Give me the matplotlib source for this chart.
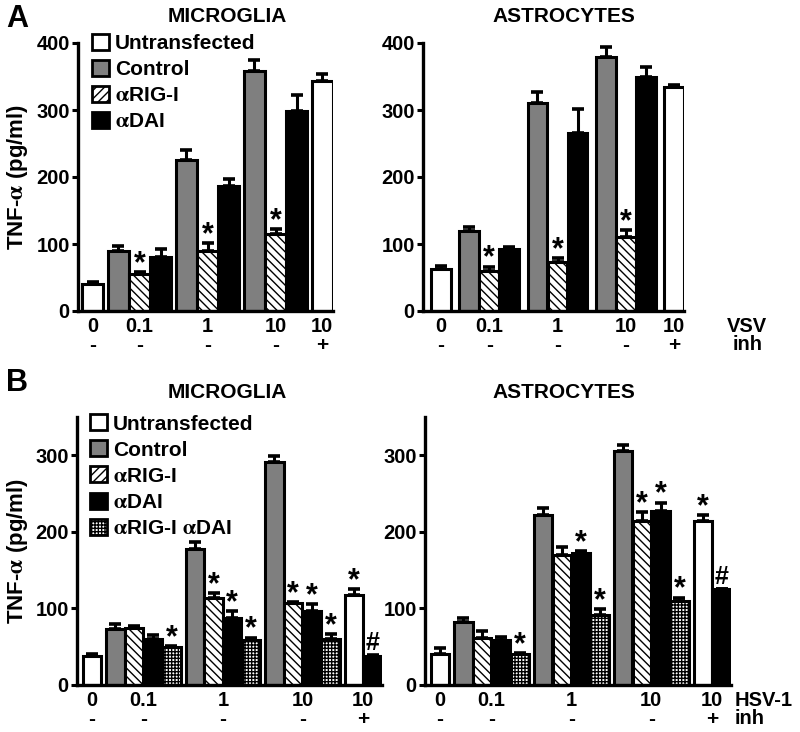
import matplotlib

matplotlib.use("Agg")
import matplotlib.pyplot as plt  # noqa: E402
from matplotlib.patches import Patch  # noqa: E402

plt.rcParams["font.family"] = ["Liberation Sans", "DejaVu Sans"]
plt.rcParams["font.weight"] = "bold"
plt.rcParams["mathtext.fontset"] = "stix"
plt.rcParams["hatch.linewidth"] = 1.0

# ---- data (TNF-alpha, pg/ml) ----
# panel A: VSV, bars in order 0 | 0.1 x3 | 1 x3 | 10 x3 | 10+inh
A_series = ["U", "C", "R", "D", "C", "R", "D", "C", "R", "D", "U"]
A_groups = [1, 3, 3, 3, 1]
A_ticks = ["0", "0.1", "1", "10", "10"]
A_inh = ["-", "-", "-", "-", "+"]
A_mg_mean = [40, 90, 55, 80, 225, 90, 187, 358, 115, 298, 343]
A_mg_err = [3, 7, 3, 12, 15, 11, 10, 17, 7, 24, 11]
A_mg_mark = ["", "", "*", "", "", "*", "", "", "*", "", ""]
A_as_mean = [63, 119, 60, 92, 310, 73, 265, 379, 110, 350, 334]
A_as_err = [4, 6, 6, 3, 17, 6, 36, 15, 11, 14, 4]
A_as_mark = ["", "", "*", "", "", "*", "", "", "*", "", ""]

# panel B: HSV-1, bars in order 0 | 0.1 x4 | 1 x4 | 10 x4 | 10+inh x2
B_series = ["U", "C", "R", "D", "RD", "C", "R", "D", "RD",
            "C", "R", "D", "RD", "U", "D"]
B_groups = [1, 4, 4, 4, 2]
B_ticks = ["0", "0.1", "1", "10", "10"]
B_inh = ["-", "-", "-", "-", "+"]
B_mg_mean = [38, 73, 75, 60, 50, 178, 114, 88, 59, 291, 107, 96, 60, 117, 38]
B_mg_err = [2, 7, 2, 5, 1, 9, 6, 8, 3, 8, 1, 10, 6, 8, 1]
B_mg_mark = ["", "", "", "", "*", "", "*", "*", "*", "", "*", "*", "*", "*", "#"]
B_as_mean = [41, 82, 61, 59, 40, 222, 170, 172, 91, 306, 214, 227, 110, 214, 125]
B_as_err = [7, 5, 10, 4, 2, 9, 10, 3, 8, 8, 12, 11, 4, 8, 1]
B_as_mark = ["", "", "", "", "*", "", "", "*", "*", "", "*", "*", "*", "*", "#"]

ALPHA = r"$\mathrm{\alpha}$"
LABELS = {
    "U": "Untransfected",
    "C": "Control",
    "R": ALPHA + "RIG-I",
    "D": ALPHA + "DAI",
    "RD": ALPHA + "RIG-I " + ALPHA + "DAI",
}
STYLE = {
    "U": dict(facecolor="white", hatch=None),
    "C": dict(facecolor="#7f7f7f", hatch=None),
    "R": dict(facecolor="white", hatch="\\\\\\\\"),
    "D": dict(facecolor="black", hatch=None),
    "RD": dict(facecolor="white", hatch="+++++"),
}
LEGEND_HATCH = {"R": "////"}

W, H = 800, 732


def bar_positions(groups, gap):
    xs, centers = [], []
    x = 0.0
    for gi, n in enumerate(groups):
        if gi:
            x += gap
        grp = [x + i for i in range(n)]
        xs.extend(grp)
        centers.append(sum(grp) / n)
        x = grp[-1] + 1
    return xs, centers


def draw_panel(ax, series, groups, mean, err, marks, ticks, inh, gap, ymax, yticks, lpad):
    xs, centers = bar_positions(groups, gap)
    for x, s, m in zip(xs, series, mean):
        st = STYLE[s]
        ax.bar(x, m, width=0.98, color=st["facecolor"], edgecolor="black",
               linewidth=2.2, hatch=st["hatch"], zorder=2)
    ax.errorbar(xs, mean, yerr=[[0] * len(err), err], fmt="none", ecolor="black",
                elinewidth=2.2, capsize=4.5, capthick=2.6, zorder=3)
    for x, m, e, mk in zip(xs, mean, err, marks):
        if not mk:
            continue
        fs = 22 if mk == "*" else 18
        dy = -5 if mk == "*" else 0
        ax.annotate(mk, (x, m + e), xytext=(0, dy), textcoords="offset points",
                    ha="center", va="bottom", fontsize=fs, fontweight="bold", zorder=4)
    ax.set_xlim(-0.5 - lpad, xs[-1] + 0.5)
    ax.set_ylim(0, ymax)
    ax.set_yticks(yticks)
    ax.set_xticks([])
    for side in ("top", "right"):
        ax.spines[side].set_visible(False)
    for side in ("left", "bottom"):
        ax.spines[side].set_linewidth(2.4)
    ax.tick_params(axis="y", length=4, width=2.2, labelsize=14.5, pad=2)
    for c, t, s in zip(centers, ticks, inh):
        ax.annotate(t, (c, 0), xycoords=("data", "axes fraction"), xytext=(0, -11.5),
                    textcoords="offset points", ha="center", va="center", fontsize=14.5)
        ax.annotate(s, (c, 0), xycoords=("data", "axes fraction"), xytext=(0, -24.5),
                    textcoords="offset points", ha="center", va="center", fontsize=15)


def legend(ax, keys, x, y):
    handles = [Patch(facecolor=STYLE[k]["facecolor"], edgecolor="black", linewidth=2,
                     hatch=LEGEND_HATCH.get(k, STYLE[k]["hatch"]), label=LABELS[k])
               for k in keys]
    ax.legend(handles=handles, loc="upper left", bbox_to_anchor=(x, y), frameon=False,
              fontsize=15, handlelength=0.8, handleheight=0.8, handletextpad=0.3,
              labelspacing=0.33, borderpad=0, borderaxespad=0)


def axes_px(left, top, right, bottom):
    return [left / W, 1 - bottom / H, (right - left) / W, (bottom - top) / H]


fig = plt.figure(figsize=(W / 100, H / 100), dpi=100)
ax1 = fig.add_axes(axes_px(78, 43, 333, 311))
ax2 = fig.add_axes(axes_px(423, 43, 684, 311))
ax3 = fig.add_axes(axes_px(77, 417, 382, 685))
ax4 = fig.add_axes(axes_px(425, 417, 731, 685))

draw_panel(ax1, A_series, A_groups, A_mg_mean, A_mg_err, A_mg_mark, A_ticks, A_inh,
           0.2, 400, [0, 100, 200, 300, 400], 0.2)
draw_panel(ax2, A_series, A_groups, A_as_mean, A_as_err, A_as_mark, A_ticks, A_inh,
           0.4, 400, [0, 100, 200, 300, 400], 0.4)
draw_panel(ax3, B_series, B_groups, B_mg_mean, B_mg_err, B_mg_mark, B_ticks, B_inh,
           0.25, 350, [0, 100, 200, 300], 0.3)
draw_panel(ax4, B_series, B_groups, B_as_mean, B_as_err, B_as_mark, B_ticks, B_inh,
           0.25, 350, [0, 100, 200, 300], 0.3)

legend(ax1, ["U", "C", "R", "D"], 0.055, 1.035)
legend(ax3, ["U", "C", "R", "D", "RD"], 0.043, 1.01)

for ax in (ax1, ax3):
    ax.set_ylabel("TNF-" + ALPHA + " (pg/ml)", fontsize=16, fontweight="bold")
ax1.yaxis.set_label_coords(-0.188, 0.5)
ax3.yaxis.set_label_coords(-0.154, 0.5)


def ftext(x, y, s, **kw):
    fig.text(x / W, 1 - y / H, s, **kw)


ftext(227, 17, "MICROGLIA", ha="center", va="center", fontsize=15)
ftext(564, 17, "ASTROCYTES", ha="center", va="center", fontsize=15)
ftext(227, 392, "MICROGLIA", ha="center", va="center", fontsize=15)
ftext(564, 392, "ASTROCYTES", ha="center", va="center", fontsize=15)
ftext(17, 19, "A", ha="center", va="center", fontsize=22)
ftext(17, 383, "B", ha="center", va="center", fontsize=22)
ftext(747, 327, "VSV", ha="center", va="center", fontsize=14.5)
ftext(748, 345, "inh", ha="center", va="center", fontsize=14.5)
ftext(735, 700, "HSV-1", ha="left", va="center", fontsize=14.5)
ftext(735, 719, "inh", ha="left", va="center", fontsize=14.5)

fig.savefig("out.png", dpi=100)
